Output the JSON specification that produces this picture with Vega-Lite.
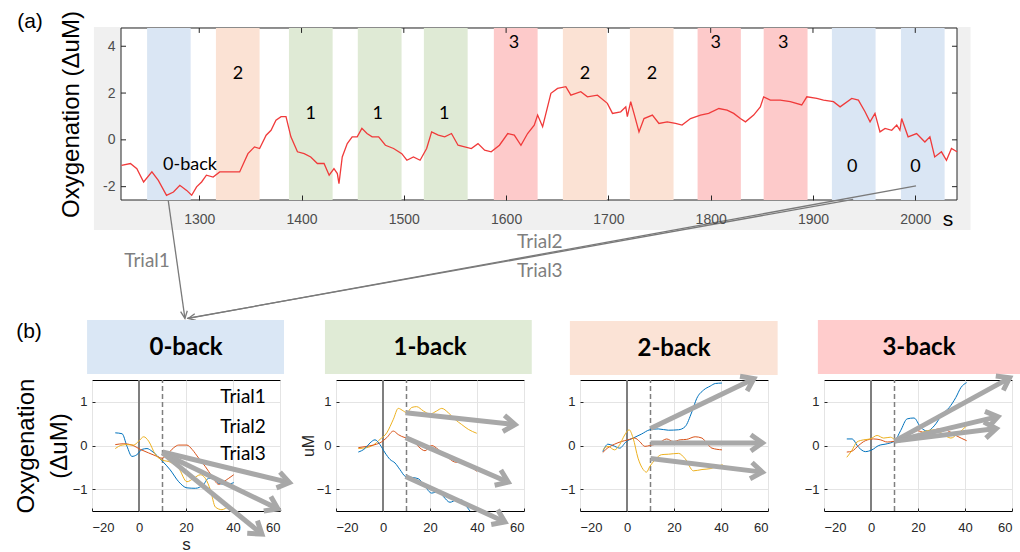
{
"$schema": "https://vega.github.io/schema/vega-lite/v6.json",
"autosize": {"type": "none"},
"padding": {"left": 92, "top": 28, "right": 928, "bottom": 524},
"background": "white",
"bounds": "flush",
"spacing": 352,
"config": {
  "view": {"stroke": null},
  "font": "Liberation Sans",
  "axis": {"labelFont": "Liberation Sans", "titleFont": "Liberation Sans", "labelColor": "#262626", "titleColor": "#000", "titleFontWeight": "normal", "domain": false, "tickColor": "#262626", "gridColor": "#e4e4e4", "labelFontSize": 13}
},
"datasets": {
  "ts": [
    {"x":1224,"y":-1.09},{"x":1232.7,"y":-1.01},{"x":1239,"y":-1.23},{"x":1245.6,"y":-1.8},{"x":1253.7,"y":-1.37},{"x":1260,"y":-1.73},{"x":1268,"y":-2.37},{"x":1274.8,"y":-2.23},{"x":1281,"y":-1.94},{"x":1287.7,"y":-2.16},{"x":1292.6,"y":-2.37},{"x":1297.4,"y":-2.01},{"x":1302.3,"y":-1.8},{"x":1307,"y":-1.51},{"x":1313.6,"y":-1.59},{"x":1320,"y":-1.37},{"x":1329.8,"y":-1.37},{"x":1339.5,"y":-1.37},{"x":1347.6,"y":-0.59},{"x":1354,"y":-0.3},{"x":1359,"y":-0.37},{"x":1365.4,"y":0.2},{"x":1370.2,"y":0.41},{"x":1375,"y":0.84},{"x":1380,"y":0.99},{"x":1384.8,"y":0.99},{"x":1389.6,"y":0.13},{"x":1396,"y":-0.51},{"x":1402.6,"y":-0.59},{"x":1409,"y":-0.73},{"x":1415.5,"y":-1.01},{"x":1422,"y":-1.01},{"x":1427,"y":-1.51},{"x":1431.7,"y":-1.23},{"x":1435,"y":-1.44},{"x":1436.6,"y":-1.87},{"x":1439.8,"y":-0.73},{"x":1444.7,"y":-0.16},{"x":1449.5,"y":0.13},{"x":1454.4,"y":0.13},{"x":1459,"y":0.49},{"x":1464,"y":0.27},{"x":1469,"y":0.13},{"x":1475.4,"y":0.13},{"x":1482,"y":-0.23},{"x":1490,"y":-0.37},{"x":1498,"y":-0.59},{"x":1503,"y":-0.87},{"x":1509.4,"y":-0.73},{"x":1515.9,"y":-0.87},{"x":1522.3,"y":-0.37},{"x":1527.2,"y":0.34},{"x":1533.7,"y":0.2},{"x":1540,"y":0.13},{"x":1546.6,"y":0.27},{"x":1553,"y":-0.23},{"x":1559.5,"y":-0.3},{"x":1566,"y":-0.37},{"x":1572.5,"y":-0.16},{"x":1579,"y":-0.44},{"x":1585.4,"y":-0.51},{"x":1593.5,"y":-0.23},{"x":1601.6,"y":0.27},{"x":1608,"y":0.2},{"x":1614.5,"y":-0.23},{"x":1621,"y":0.27},{"x":1627.5,"y":0.63},{"x":1630.8,"y":1.06},{"x":1635.7,"y":0.56},{"x":1643.8,"y":1.99},{"x":1650.3,"y":2.2},{"x":1658.4,"y":2.27},{"x":1663.3,"y":1.91},{"x":1673,"y":2.06},{"x":1679.5,"y":1.84},{"x":1689.3,"y":1.91},{"x":1699,"y":1.56},{"x":1704,"y":1.13},{"x":1712,"y":1.2},{"x":1717,"y":1.41},{"x":1718.5,"y":0.99},{"x":1721.8,"y":1.63},{"x":1725,"y":1.13},{"x":1729.9,"y":0.34},{"x":1734.8,"y":0.91},{"x":1743,"y":1.06},{"x":1749.4,"y":0.7},{"x":1757.5,"y":0.77},{"x":1765.6,"y":0.7},{"x":1772,"y":0.63},{"x":1780.3,"y":0.91},{"x":1790,"y":1.06},{"x":1798,"y":1.13},{"x":1808,"y":1.34},{"x":1816,"y":1.27},{"x":1822.5,"y":1.13},{"x":1829,"y":0.91},{"x":1834,"y":0.77},{"x":1842,"y":1.06},{"x":1848.5,"y":1.41},{"x":1851.8,"y":1.84},{"x":1858.3,"y":1.7},{"x":1868,"y":1.7},{"x":1877.8,"y":1.63},{"x":1889,"y":1.49},{"x":1894,"y":1.84},{"x":1903.8,"y":1.77},{"x":1910.3,"y":1.7},{"x":1920,"y":1.63},{"x":1926.5,"y":1.41},{"x":1937.9,"y":1.77},{"x":1944.4,"y":1.7},{"x":1950.9,"y":1.2},{"x":1955.8,"y":0.77},{"x":1960.6,"y":1.13},{"x":1965.5,"y":0.34},{"x":1970.5,"y":0.49},{"x":1977,"y":0.41},{"x":1981.9,"y":0.63},{"x":1985,"y":0.41},{"x":1986.7,"y":0.91},{"x":1993,"y":0.13},{"x":2001.3,"y":0.27},{"x":2009.4,"y":-0.09},{"x":2014.3,"y":0.13},{"x":2019,"y":-0.73},{"x":2025.6,"y":-0.51},{"x":2030.5,"y":-0.87},{"x":2035.4,"y":-0.37},{"x":2040.8,"y":-0.51}
  ],
  "bands": [
    {"x":1249,"x2":1291.6,"y":-2.57,"y2":4.78,"n":"0"},{"x":1316.3,"x2":1359,"y":-2.57,"y2":4.78,"n":"2"},{"x":1387.7,"x2":1430.4,"y":-2.57,"y2":4.78,"n":"1"},{"x":1455,"x2":1497.8,"y":-2.57,"y2":4.78,"n":"1"},{"x":1519.6,"x2":1562.4,"y":-2.57,"y2":4.78,"n":"1"},{"x":1588,"x2":1630.8,"y":-2.57,"y2":4.78,"n":"3"},{"x":1655.5,"x2":1698.5,"y":-2.57,"y2":4.78,"n":"2"},{"x":1721,"x2":1763.7,"y":-2.57,"y2":4.78,"n":"2"},{"x":1787.2,"x2":1829.5,"y":-2.57,"y2":4.78,"n":"3"},{"x":1851.8,"x2":1894.7,"y":-2.57,"y2":4.78,"n":"3"},{"x":1918.5,"x2":1961.2,"y":-2.57,"y2":4.78,"n":"0"},{"x":1986,"x2":2028.7,"y":-2.57,"y2":4.78,"n":"0"}
  ],
  "topticks": [
    {"x":1300,"y":4.78,"y2":4.57},{"x":1400,"y":4.78,"y2":4.57},{"x":1500,"y":4.78,"y2":4.57},{"x":1600,"y":4.78,"y2":4.57},{"x":1700,"y":4.78,"y2":4.57},{"x":1800,"y":4.78,"y2":4.57},{"x":1900,"y":4.78,"y2":4.57},{"x":2000,"y":4.78,"y2":4.57}
  ],
  "sideticks": [
    {"x":2040.8,"x2":2035.9,"y":-2},{"x":2040.8,"x2":2035.9,"y":0},{"x":2040.8,"x2":2035.9,"y":2},{"x":2040.8,"x2":2035.9,"y":4},
    {"x":1223.5,"x2":1228.4,"y":-2},{"x":1223.5,"x2":1228.4,"y":0},{"x":1223.5,"x2":1228.4,"y":2},{"x":1223.5,"x2":1228.4,"y":4}
  ],
  "toplabels": [
    {"x":1337.8,"y":2.82,"label":"2"},{"x":1409,"y":1.1,"label":"1"},{"x":1474.4,"y":1.1,"label":"1"},{"x":1539.5,"y":1.1,"label":"1"},{"x":1607.6,"y":4.13,"label":"3"},{"x":1677,"y":2.82,"label":"2"},{"x":1742.5,"y":2.82,"label":"2"},{"x":1805,"y":4.13,"label":"3"},{"x":1871,"y":4.13,"label":"3"},{"x":1938.4,"y":-1.15,"label":"0"},{"x":2000.3,"y":-1.15,"label":"0"},{"x":1291,"y":-1.07,"label":"0-back"}
  ],
  "links": [
    {"id":"L1","o":0,"x":1269.7,"y":-2.6},{"id":"L1","o":1,"x":1286.0,"y":-7.63},
    {"id":"L1h","o":0,"x":1281.8,"y":-7.34},{"id":"L1h","o":1,"x":1286.0,"y":-7.63},{"id":"L1h","o":2,"x":1288.3,"y":-7.30},
    {"id":"L2","o":0,"x":2000.7,"y":-1.97},{"id":"L2","o":1,"x":1289.3,"y":-7.63},
    {"id":"L3","o":0,"x":1939.3,"y":-2.54},{"id":"L3","o":1,"x":1288.0,"y":-7.63},
    {"id":"L2h","o":0,"x":1295.6,"y":-7.43},{"id":"L2h","o":1,"x":1289.3,"y":-7.63},{"id":"L2h","o":2,"x":1296.8,"y":-7.71}
  ],
  "triallabels": [
    {"x":1249,"y":-5.18,"label":"Trial1"},{"x":1633,"y":-4.37,"label":"Trial2"},{"x":1633,"y":-5.6,"label":"Trial3"}
  ],
  "trials": [
    {"p":0,"t":"1","x":-10.1,"y":0.29},{"p":0,"t":"1","x":-7.2,"y":0.27},{"p":0,"t":"1","x":-5.1,"y":-0.02},{"p":0,"t":"1","x":-3,"y":-0.25},{"p":0,"t":"1","x":-0.9,"y":-0.21},{"p":0,"t":"1","x":1.3,"y":-0.09},{"p":0,"t":"1","x":3.4,"y":-0.07},{"p":0,"t":"1","x":5.5,"y":-0.13},{"p":0,"t":"1","x":9.8,"y":-0.35},{"p":0,"t":"1","x":13.3,"y":-0.56},{"p":0,"t":"1","x":16.9,"y":-0.83},{"p":0,"t":"1","x":20.4,"y":-0.97},{"p":0,"t":"1","x":24,"y":-0.98},{"p":0,"t":"1","x":27.5,"y":-0.89},{"p":0,"t":"1","x":29.6,"y":-0.75},{"p":0,"t":"1","x":31.8,"y":-0.75},{"p":0,"t":"1","x":33.9,"y":-0.87},{"p":0,"t":"1","x":37.4,"y":-0.89},{"p":0,"t":"1","x":40.3,"y":-0.85},
    {"p":0,"t":"2","x":-10.1,"y":0.02},{"p":0,"t":"2","x":-6.5,"y":0.04},{"p":0,"t":"2","x":-3,"y":0.01},{"p":0,"t":"2","x":0.6,"y":-0.09},{"p":0,"t":"2","x":4.1,"y":-0.17},{"p":0,"t":"2","x":7.7,"y":-0.25},{"p":0,"t":"2","x":9.8,"y":-0.29},{"p":0,"t":"2","x":11.9,"y":-0.21},{"p":0,"t":"2","x":14.8,"y":-0.05},{"p":0,"t":"2","x":16.9,"y":0.01},{"p":0,"t":"2","x":20.4,"y":0.01},{"p":0,"t":"2","x":22.6,"y":-0.09},{"p":0,"t":"2","x":25.4,"y":-0.29},{"p":0,"t":"2","x":28.2,"y":-0.48},{"p":0,"t":"2","x":31.1,"y":-0.71},{"p":0,"t":"2","x":33.9,"y":-0.89},{"p":0,"t":"2","x":36,"y":-0.83},{"p":0,"t":"2","x":38.2,"y":-0.75},{"p":0,"t":"2","x":40.3,"y":-0.67},
    {"p":0,"t":"3","x":-10.1,"y":-0.07},{"p":0,"t":"3","x":-7.2,"y":0.01},{"p":0,"t":"3","x":-5.1,"y":0.02},{"p":0,"t":"3","x":-2.3,"y":0.01},{"p":0,"t":"3","x":-0.1,"y":0.1},{"p":0,"t":"3","x":2,"y":0.2},{"p":0,"t":"3","x":4.1,"y":0.1},{"p":0,"t":"3","x":7,"y":-0.21},{"p":0,"t":"3","x":9.8,"y":-0.33},{"p":0,"t":"3","x":13.3,"y":-0.38},{"p":0,"t":"3","x":16.9,"y":-0.52},{"p":0,"t":"3","x":20.4,"y":-0.83},{"p":0,"t":"3","x":23.3,"y":-0.75},{"p":0,"t":"3","x":26.1,"y":-0.67},{"p":0,"t":"3","x":28.2,"y":-0.75},{"p":0,"t":"3","x":30.4,"y":-1.02},{"p":0,"t":"3","x":32.5,"y":-1.41},{"p":0,"t":"3","x":35.3,"y":-1.47},{"p":0,"t":"3","x":38.2,"y":-1.41},{"p":0,"t":"3","x":40.3,"y":-1.45},
    {"p":1,"t":"3","x":-10.5,"y":-0.07},{"p":1,"t":"3","x":-7,"y":-0.05},{"p":1,"t":"3","x":-4.1,"y":0.01},{"p":1,"t":"3","x":-1.3,"y":0.14},{"p":1,"t":"3","x":1.6,"y":0.29},{"p":1,"t":"3","x":4.4,"y":0.6},{"p":1,"t":"3","x":6.5,"y":0.85},{"p":1,"t":"3","x":8.7,"y":0.79},{"p":1,"t":"3","x":10.1,"y":0.75},{"p":1,"t":"3","x":12.2,"y":0.87},{"p":1,"t":"3","x":14.3,"y":0.89},{"p":1,"t":"3","x":17.2,"y":0.79},{"p":1,"t":"3","x":20,"y":0.72},{"p":1,"t":"3","x":22.8,"y":0.79},{"p":1,"t":"3","x":25,"y":0.85},{"p":1,"t":"3","x":27.8,"y":0.75},{"p":1,"t":"3","x":30.6,"y":0.6},{"p":1,"t":"3","x":33.5,"y":0.48},{"p":1,"t":"3","x":36.3,"y":0.37},{"p":1,"t":"3","x":39.9,"y":0.28},
    {"p":1,"t":"2","x":-10.5,"y":-0.05},{"p":1,"t":"2","x":-7,"y":-0.02},{"p":1,"t":"2","x":-4.1,"y":0.01},{"p":1,"t":"2","x":-1.3,"y":0.06},{"p":1,"t":"2","x":1.6,"y":0.18},{"p":1,"t":"2","x":4.4,"y":0.33},{"p":1,"t":"2","x":6.5,"y":0.25},{"p":1,"t":"2","x":9.4,"y":0.18},{"p":1,"t":"2","x":12.2,"y":0.16},{"p":1,"t":"2","x":15,"y":-0.02},{"p":1,"t":"2","x":17.9,"y":-0.12},{"p":1,"t":"2","x":20.7,"y":0},{"p":1,"t":"2","x":23.5,"y":-0.09},{"p":1,"t":"2","x":27.1,"y":-0.25},{"p":1,"t":"2","x":30.6,"y":-0.38},{"p":1,"t":"2","x":34.2,"y":-0.4},{"p":1,"t":"2","x":37,"y":-0.48},{"p":1,"t":"2","x":39.9,"y":-0.59},
    {"p":1,"t":"1","x":-10.5,"y":-0.15},{"p":1,"t":"1","x":-7.7,"y":-0.07},{"p":1,"t":"1","x":-5.5,"y":0.06},{"p":1,"t":"1","x":-3.4,"y":0.13},{"p":1,"t":"1","x":-1.3,"y":0.02},{"p":1,"t":"1","x":0.9,"y":-0.17},{"p":1,"t":"1","x":3,"y":-0.32},{"p":1,"t":"1","x":5.1,"y":-0.4},{"p":1,"t":"1","x":7.2,"y":-0.55},{"p":1,"t":"1","x":9.6,"y":-0.71},{"p":1,"t":"1","x":12.2,"y":-0.73},{"p":1,"t":"1","x":15,"y":-0.76},{"p":1,"t":"1","x":17.9,"y":-0.94},{"p":1,"t":"1","x":20.7,"y":-1.09},{"p":1,"t":"1","x":23.5,"y":-1.05},{"p":1,"t":"1","x":25.7,"y":-1.17},{"p":1,"t":"1","x":28.5,"y":-1.3},{"p":1,"t":"1","x":31.3,"y":-1.25},{"p":1,"t":"1","x":33.5,"y":-1.25},{"p":1,"t":"1","x":35.6,"y":-1.4},{"p":1,"t":"1","x":37.3,"y":-1.52},
    {"p":2,"t":"1","x":-10.3,"y":-0.14},{"p":2,"t":"1","x":-8.1,"y":0.03},{"p":2,"t":"1","x":-6,"y":0},{"p":2,"t":"1","x":-3.1,"y":-0.06},{"p":2,"t":"1","x":-0.3,"y":0.09},{"p":2,"t":"1","x":2.6,"y":0.17},{"p":2,"t":"1","x":6.1,"y":0.26},{"p":2,"t":"1","x":9.7,"y":0.36},{"p":2,"t":"1","x":13.3,"y":0.38},{"p":2,"t":"1","x":17.6,"y":0.35},{"p":2,"t":"1","x":21.9,"y":0.36},{"p":2,"t":"1","x":24.7,"y":0.43},{"p":2,"t":"1","x":27.6,"y":0.77},{"p":2,"t":"1","x":29.7,"y":1.08},{"p":2,"t":"1","x":32.6,"y":1.27},{"p":2,"t":"1","x":35.4,"y":1.36},{"p":2,"t":"1","x":37.6,"y":1.42},{"p":2,"t":"1","x":40.4,"y":1.43},
    {"p":2,"t":"2","x":-10.3,"y":-0.16},{"p":2,"t":"2","x":-8.1,"y":-0.05},{"p":2,"t":"2","x":-5.3,"y":0.03},{"p":2,"t":"2","x":-2.4,"y":0.09},{"p":2,"t":"2","x":0.4,"y":0.13},{"p":2,"t":"2","x":3.3,"y":0.17},{"p":2,"t":"2","x":5.4,"y":0.09},{"p":2,"t":"2","x":7.6,"y":-0.02},{"p":2,"t":"2","x":9.7,"y":0},{"p":2,"t":"2","x":13.3,"y":0.05},{"p":2,"t":"2","x":16.9,"y":0.15},{"p":2,"t":"2","x":19.7,"y":0.09},{"p":2,"t":"2","x":22.6,"y":0.13},{"p":2,"t":"2","x":25.4,"y":0.14},{"p":2,"t":"2","x":29,"y":0.2},{"p":2,"t":"2","x":31.9,"y":0.17},{"p":2,"t":"2","x":34,"y":0.05},{"p":2,"t":"2","x":36.1,"y":-0.06},{"p":2,"t":"2","x":40.4,"y":-0.1},
    {"p":2,"t":"3","x":-10.3,"y":-0.1},{"p":2,"t":"3","x":-8.1,"y":-0.02},{"p":2,"t":"3","x":-5.3,"y":-0.1},{"p":2,"t":"3","x":-3.1,"y":0.02},{"p":2,"t":"3","x":-1,"y":0.24},{"p":2,"t":"3","x":0.9,"y":0.36},{"p":2,"t":"3","x":2.6,"y":0.17},{"p":2,"t":"3","x":4.7,"y":-0.29},{"p":2,"t":"3","x":6.9,"y":-0.55},{"p":2,"t":"3","x":8.3,"y":-0.61},{"p":2,"t":"3","x":9.7,"y":-0.48},{"p":2,"t":"3","x":11.9,"y":-0.33},{"p":2,"t":"3","x":14.7,"y":-0.21},{"p":2,"t":"3","x":17.6,"y":-0.2},{"p":2,"t":"3","x":21.9,"y":-0.18},{"p":2,"t":"3","x":24.7,"y":-0.3},{"p":2,"t":"3","x":28.3,"y":-0.58},{"p":2,"t":"3","x":31.9,"y":-0.55},{"p":2,"t":"3","x":35.4,"y":-0.53},{"p":2,"t":"3","x":38.3,"y":-0.48},{"p":2,"t":"3","x":40.7,"y":-0.44},
    {"p":3,"t":"1","x":-10.3,"y":0.15},{"p":3,"t":"1","x":-8.1,"y":0.15},{"p":3,"t":"1","x":-5.3,"y":-0.04},{"p":3,"t":"1","x":-2.4,"y":-0.14},{"p":3,"t":"1","x":0.4,"y":-0.1},{"p":3,"t":"1","x":3.3,"y":0},{"p":3,"t":"1","x":6.9,"y":0.04},{"p":3,"t":"1","x":10,"y":0.1},{"p":3,"t":"1","x":12.6,"y":0.34},{"p":3,"t":"1","x":15.4,"y":0.61},{"p":3,"t":"1","x":18.3,"y":0.63},{"p":3,"t":"1","x":21.1,"y":0.42},{"p":3,"t":"1","x":24,"y":0.33},{"p":3,"t":"1","x":26.9,"y":0.45},{"p":3,"t":"1","x":30.4,"y":0.72},{"p":3,"t":"1","x":33.3,"y":0.87},{"p":3,"t":"1","x":36.1,"y":1.1},{"p":3,"t":"1","x":38.3,"y":1.33},{"p":3,"t":"1","x":40.7,"y":1.44},
    {"p":3,"t":"2","x":-10.3,"y":-0.15},{"p":3,"t":"2","x":-8.1,"y":-0.13},{"p":3,"t":"2","x":-5.3,"y":0},{"p":3,"t":"2","x":-2.4,"y":0.11},{"p":3,"t":"2","x":1.1,"y":0.15},{"p":3,"t":"2","x":4,"y":0.13},{"p":3,"t":"2","x":6.9,"y":0.08},{"p":3,"t":"2","x":10,"y":0.1},{"p":3,"t":"2","x":13.3,"y":0.19},{"p":3,"t":"2","x":16.9,"y":0.27},{"p":3,"t":"2","x":19.7,"y":0.34},{"p":3,"t":"2","x":22.6,"y":0.3},{"p":3,"t":"2","x":25.4,"y":0.33},{"p":3,"t":"2","x":29,"y":0.38},{"p":3,"t":"2","x":32.6,"y":0.34},{"p":3,"t":"2","x":36.1,"y":0.23},{"p":3,"t":"2","x":40.7,"y":0.11},
    {"p":3,"t":"3","x":-10.3,"y":-0.27},{"p":3,"t":"3","x":-8.1,"y":-0.11},{"p":3,"t":"3","x":-6,"y":0.08},{"p":3,"t":"3","x":-3.1,"y":0.13},{"p":3,"t":"3","x":-0.3,"y":0.15},{"p":3,"t":"3","x":2.6,"y":0.23},{"p":3,"t":"3","x":5.4,"y":0.17},{"p":3,"t":"3","x":8.3,"y":0.19},{"p":3,"t":"3","x":10,"y":0.15},{"p":3,"t":"3","x":13.3,"y":0.19},{"p":3,"t":"3","x":16.9,"y":0.2},{"p":3,"t":"3","x":20.4,"y":0.27},{"p":3,"t":"3","x":24,"y":0.34},{"p":3,"t":"3","x":27.6,"y":0.36},{"p":3,"t":"3","x":30.4,"y":0.27},{"p":3,"t":"3","x":34,"y":0.17},{"p":3,"t":"3","x":36.9,"y":0.27},{"p":3,"t":"3","x":40.7,"y":0.45}
  ],
  "arrows": [
    {"p":0,"a":"A","o":0,"x":10,"y":-0.15},{"p":0,"a":"A","o":1,"x":64,"y":-0.85},
    {"p":0,"a":"Ah","o":0,"x":60.0,"y":-0.61},{"p":0,"a":"Ah","o":1,"x":64,"y":-0.85},{"p":0,"a":"Ah","o":2,"x":58.5,"y":-0.97},
    {"p":0,"a":"B","o":0,"x":10,"y":-0.17},{"p":0,"a":"B","o":1,"x":59.1,"y":-1.45},
    {"p":0,"a":"Bh","o":0,"x":56.1,"y":-1.17},{"p":0,"a":"Bh","o":1,"x":59.1,"y":-1.45},{"p":0,"a":"Bh","o":2,"x":53.1,"y":-1.50},
    {"p":0,"a":"C","o":0,"x":10,"y":-0.17},{"p":0,"a":"C","o":1,"x":52.3,"y":-2.03},
    {"p":0,"a":"Ch","o":0,"x":50.4,"y":-1.72},{"p":0,"a":"Ch","o":1,"x":52.3,"y":-2.03},{"p":0,"a":"Ch","o":2,"x":46.05,"y":-2.01},
    {"p":1,"a":"A","o":0,"x":9.6,"y":0.75},{"p":1,"a":"A","o":1,"x":56.2,"y":0.48},
    {"p":1,"a":"Ah","o":0,"x":51.7,"y":0.69},{"p":1,"a":"Ah","o":1,"x":56.2,"y":0.48},{"p":1,"a":"Ah","o":2,"x":51.0,"y":0.32},
    {"p":1,"a":"B","o":0,"x":9.6,"y":0.18},{"p":1,"a":"B","o":1,"x":53.3,"y":-0.84},
    {"p":1,"a":"Bh","o":0,"x":50.15,"y":-0.56},{"p":1,"a":"Bh","o":1,"x":53.3,"y":-0.84},{"p":1,"a":"Bh","o":2,"x":47.5,"y":-0.91},
    {"p":1,"a":"C","o":0,"x":9.6,"y":-0.71},{"p":1,"a":"C","o":1,"x":51.9,"y":-1.75},
    {"p":1,"a":"Ch","o":0,"x":48.8,"y":-1.47},{"p":1,"a":"Ch","o":1,"x":51.9,"y":-1.75},{"p":1,"a":"Ch","o":2,"x":46.05,"y":-1.81},
    {"p":2,"a":"A","o":0,"x":10,"y":0.39},{"p":2,"a":"A","o":1,"x":54,"y":1.53},
    {"p":2,"a":"Ah","o":0,"x":48.1,"y":1.585},{"p":2,"a":"Ah","o":1,"x":54,"y":1.53},{"p":2,"a":"Ah","o":2,"x":51.1,"y":1.25},
    {"p":2,"a":"B","o":0,"x":10,"y":0.06},{"p":2,"a":"B","o":1,"x":57.6,"y":0.06},
    {"p":2,"a":"Bh","o":0,"x":52.7,"y":0.246},{"p":2,"a":"Bh","o":1,"x":57.6,"y":0.06},{"p":2,"a":"Bh","o":2,"x":52.7,"y":-0.126},
    {"p":2,"a":"C","o":0,"x":10,"y":-0.30},{"p":2,"a":"C","o":1,"x":57.6,"y":-0.61},
    {"p":2,"a":"Ch","o":0,"x":53.2,"y":-0.39},{"p":2,"a":"Ch","o":1,"x":57.6,"y":-0.61},{"p":2,"a":"Ch","o":2,"x":52.35,"y":-0.76},
    {"p":3,"a":"A","o":0,"x":10,"y":0.1},{"p":3,"a":"A","o":1,"x":59,"y":1.55},
    {"p":3,"a":"Ah","o":0,"x":53.1,"y":1.59},{"p":3,"a":"Ah","o":1,"x":59,"y":1.55},{"p":3,"a":"Ah","o":2,"x":56.3,"y":1.26},
    {"p":3,"a":"B","o":0,"x":10,"y":0.1},{"p":3,"a":"B","o":1,"x":54,"y":0.66},
    {"p":3,"a":"Bh","o":0,"x":48.5,"y":0.78},{"p":3,"a":"Bh","o":1,"x":54,"y":0.66},{"p":3,"a":"Bh","o":2,"x":50.0,"y":0.42},
    {"p":3,"a":"C","o":0,"x":10,"y":0.1},{"p":3,"a":"C","o":1,"x":53.3,"y":0.39},
    {"p":3,"a":"Ch","o":0,"x":48.0,"y":0.54},{"p":3,"a":"Ch","o":1,"x":53.3,"y":0.39},{"p":3,"a":"Ch","o":2,"x":48.9,"y":0.17}
  ]
},
"vconcat": [
  {
    "hconcat": [
      {"width": 29, "height": 172, "data": {"values": [{}]}, "mark": {"type": "point", "opacity": 0}},
      {
        "width": 836, "height": 172,
        "encoding": {
          "x": {"field": "x", "type": "quantitative", "scale": {"domain": [1223.5, 2040.8], "nice": false, "zero": false},
                "axis": {"orient": "bottom", "values": [1300,1400,1500,1600,1700,1800,1900,2000], "format": "d", "tickSize": -5, "labelFontSize": 14, "labelColor": "#4d4d4d", "labelPadding": 17, "title": null, "grid": false, "zindex": 1}},
          "y": {"field": "y", "type": "quantitative", "scale": {"domain": [-2.57, 4.78], "nice": false, "zero": false},
                "axis": {"orient": "left", "values": [-2,0,2,4], "labelExpr": "replace(datum.label, '−', '-')", "ticks": false, "tickSize": 0, "labelFontSize": 14, "labelColor": "#4d4d4d", "labelPadding": 6, "title": "Oxygenation (ΔuM)", "titleFontSize": 24, "titleX": -38, "grid": false, "zindex": 1}}
        },
        "layer": [
          {"data": {"values": [{"x": 1197, "x2": 2054, "y": 4.82, "y2": -3.85}]},
           "mark": {"type": "rect", "clip": false, "fill": "#f0f0f0"},
           "encoding": {"x2": {"field": "x2"}, "y2": {"field": "y2"}}},
          {"data": {"values": [{"x": 1223.5, "x2": 2040.8, "y": 4.78, "y2": -2.57}]},
           "mark": {"type": "rect", "fill": "#ffffff", "stroke": "#262626", "strokeWidth": 1},
           "encoding": {"x2": {"field": "x2"}, "y2": {"field": "y2"}}},
          {"data": {"name": "bands"},
           "mark": {"type": "rect"},
           "encoding": {
             "x2": {"field": "x2"}, "y2": {"field": "y2"},
             "fill": {"field": "n", "type": "nominal", "scale": {"domain": ["0","1","2","3"], "range": ["#dae6f4","#dfead5","#fbe2d4","#fdcaca"]}, "legend": null}
           }},
          {"data": {"name": "topticks"},
           "mark": {"type": "rule", "color": "#262626", "strokeWidth": 1},
           "encoding": {"y2": {"field": "y2"}}},
          {"data": {"name": "sideticks"},
           "mark": {"type": "rule", "color": "#262626", "strokeWidth": 1},
           "encoding": {"x2": {"field": "x2"}}},
          {"data": {"name": "ts"},
           "mark": {"type": "line", "color": "#f03a3a", "strokeWidth": 1.3},
           "encoding": {}},
          {"data": {"name": "toplabels"},
           "mark": {"type": "text", "font": "Lato", "fontSize": 18, "color": "#000", "clip": false},
           "encoding": {"text": {"field": "label"}}},
          {"data": {"values": [{"x": 1134.5, "y": 5.04, "label": "(a)"}, {"x": 2032, "y": -3.42, "label": "s"}]},
           "mark": {"type": "text", "font": "Liberation Sans", "fontSize": 21, "color": "#000", "clip": false},
           "encoding": {"text": {"field": "label"}}},
          {"data": {"name": "links"},
           "mark": {"type": "line", "color": "#7a7a7a", "strokeWidth": 1.3, "clip": false},
           "encoding": {"detail": {"field": "id"}, "order": {"field": "o"}}},
          {"data": {"name": "triallabels"},
           "mark": {"type": "text", "font": "Lato", "fontSize": 19, "color": "#7f7f7f", "clip": false},
           "encoding": {"text": {"field": "label"}}}
        ]
      }
    ],
    "spacing": 0,
    "bounds": "flush"
  },
  {
    "hconcat": [
      {
        "width": 188, "height": 131,
        "view": {"stroke": "#000", "strokeWidth": 1},
        "encoding": {
          "x": {"field": "x", "type": "quantitative", "scale": {"domain": [-20, 60], "nice": false, "zero": false},
                "axis": {"values": [-20,0,20,40,60], "grid": true, "tickSize": -3, "labelPadding": 13, "title": "s", "titleFontSize": 17, "titleColor": "#262626", "titleBaseline": "alphabetic", "titleY": 38}},
          "y": {"field": "y", "type": "quantitative", "scale": {"domain": [-1.5, 1.5], "nice": false, "zero": false},
                "axis": {"values": [-1,0,1], "grid": true, "tickSize": -3, "labelPadding": 8, "title": ["Oxygenation", "(ΔuM)"], "titleFontSize": 24, "titleLineHeight": 33, "titleX": -54}}
        },
        "layer": [
          {"data": {"values": [{"x": -22.1, "x2": 61.7, "y": 2.874, "y2": 1.637}]}, "mark": {"type": "rect", "clip": false, "fill": "#dae7f5"}, "encoding": {"x2": {"field": "x2"}, "y2": {"field": "y2"}}},
          {"data": {"values": [{"x": 20, "y": 2.23, "label": "0-back"}]}, "mark": {"type": "text", "clip": false, "font": "Lato", "fontWeight": "bold", "fontSize": 24, "color": "#000"}, "encoding": {"text": {"field": "label"}}},
          {"data": {"values": [{"x": 0, "y": -1.5, "y2": 1.5}]}, "mark": {"type": "rule", "color": "#7f7f7f", "strokeWidth": 2}, "encoding": {"y2": {"field": "y2"}}},
          {"data": {"values": [{"x": 10, "y": -1.5, "y2": 1.5}]}, "mark": {"type": "rule", "color": "#7f7f7f", "strokeWidth": 1.5, "strokeDash": [5, 3]}, "encoding": {"y2": {"field": "y2"}}},
          {"data": {"name": "trials"}, "transform": [{"filter": "datum.p == 0"}], "mark": {"type": "line", "strokeWidth": 1, "interpolate": "monotone", "clip": true},
           "encoding": {"color": {"field": "t", "type": "nominal", "scale": {"domain": ["1","2","3"], "range": ["#0072BD","#D95319","#EDB120"]}, "legend": null}}},
          {"data": {"name": "arrows"}, "transform": [{"filter": "datum.p == 0"}], "mark": {"type": "line", "clip": false, "color": "#a8a8a8", "strokeWidth": 5},
           "encoding": {"detail": {"field": "a"}, "order": {"field": "o"}}},
          {"data": {"values": [{"x": 44.3, "y": 1.11, "label": "Trial1"}, {"x": 44.3, "y": 0.42, "label": "Trial2"}, {"x": 44.3, "y": -0.19, "label": "Trial3"}]},
           "mark": {"type": "text", "clip": false, "font": "Lato", "fontSize": 19, "color": "#000"}, "encoding": {"text": {"field": "label"}}},
          {"data": {"values": [{"x": -46.8, "y": 2.6, "label": "(b)"}]},
           "mark": {"type": "text", "clip": false, "font": "Liberation Sans", "fontSize": 21, "color": "#000"}, "encoding": {"text": {"field": "label"}}}
        ]
      },
      {
        "width": 188, "height": 131,
        "view": {"stroke": "#000", "strokeWidth": 1},
        "encoding": {
          "x": {"field": "x", "type": "quantitative", "scale": {"domain": [-20, 60], "nice": false, "zero": false},
                "axis": {"values": [-20,0,20,40,60], "grid": true, "tickSize": -3, "labelPadding": 13, "title": null}},
          "y": {"field": "y", "type": "quantitative", "scale": {"domain": [-1.5, 1.5], "nice": false, "zero": false},
                "axis": {"values": [-1,0,1], "grid": true, "tickSize": -3, "labelPadding": 8, "title": "uM", "titleFontSize": 16, "titleColor": "#262626", "titleX": -20}}
        },
        "layer": [
          {"data": {"values": [{"x": -24.7, "x2": 63.3, "y": 2.874, "y2": 1.637}]}, "mark": {"type": "rect", "clip": false, "fill": "#e0ebd6"}, "encoding": {"x2": {"field": "x2"}, "y2": {"field": "y2"}}},
          {"data": {"values": [{"x": 20, "y": 2.23, "label": "1-back"}]}, "mark": {"type": "text", "clip": false, "font": "Lato", "fontWeight": "bold", "fontSize": 24, "color": "#000"}, "encoding": {"text": {"field": "label"}}},
          {"data": {"values": [{"x": 0, "y": -1.5, "y2": 1.5}]}, "mark": {"type": "rule", "color": "#7f7f7f", "strokeWidth": 2}, "encoding": {"y2": {"field": "y2"}}},
          {"data": {"values": [{"x": 10, "y": -1.5, "y2": 1.5}]}, "mark": {"type": "rule", "color": "#7f7f7f", "strokeWidth": 1.5, "strokeDash": [5, 3]}, "encoding": {"y2": {"field": "y2"}}},
          {"data": {"name": "trials"}, "transform": [{"filter": "datum.p == 1"}], "mark": {"type": "line", "strokeWidth": 1, "interpolate": "monotone", "clip": true},
           "encoding": {"color": {"field": "t", "type": "nominal", "scale": {"domain": ["1","2","3"], "range": ["#0072BD","#D95319","#EDB120"]}, "legend": null}}},
          {"data": {"name": "arrows"}, "transform": [{"filter": "datum.p == 1"}], "mark": {"type": "line", "clip": false, "color": "#a8a8a8", "strokeWidth": 5},
           "encoding": {"detail": {"field": "a"}, "order": {"field": "o"}}}
        ]
      },
      {
        "width": 188, "height": 131,
        "view": {"stroke": "#000", "strokeWidth": 1},
        "encoding": {
          "x": {"field": "x", "type": "quantitative", "scale": {"domain": [-20, 60], "nice": false, "zero": false},
                "axis": {"values": [-20,0,20,40,60], "grid": true, "tickSize": -3, "labelPadding": 13, "title": null}},
          "y": {"field": "y", "type": "quantitative", "scale": {"domain": [-1.5, 1.5], "nice": false, "zero": false},
                "axis": {"values": [-1,0,1], "grid": true, "tickSize": -3, "labelPadding": 8, "title": null}}
        },
        "layer": [
          {"data": {"values": [{"x": -24.3, "x2": 64.1, "y": 2.851, "y2": 1.614}]}, "mark": {"type": "rect", "clip": false, "fill": "#fbe3d6"}, "encoding": {"x2": {"field": "x2"}, "y2": {"field": "y2"}}},
          {"data": {"values": [{"x": 20, "y": 2.21, "label": "2-back"}]}, "mark": {"type": "text", "clip": false, "font": "Lato", "fontWeight": "bold", "fontSize": 24, "color": "#000"}, "encoding": {"text": {"field": "label"}}},
          {"data": {"values": [{"x": 0, "y": -1.5, "y2": 1.5}]}, "mark": {"type": "rule", "color": "#7f7f7f", "strokeWidth": 2}, "encoding": {"y2": {"field": "y2"}}},
          {"data": {"values": [{"x": 10, "y": -1.5, "y2": 1.5}]}, "mark": {"type": "rule", "color": "#7f7f7f", "strokeWidth": 1.5, "strokeDash": [5, 3]}, "encoding": {"y2": {"field": "y2"}}},
          {"data": {"name": "trials"}, "transform": [{"filter": "datum.p == 2"}], "mark": {"type": "line", "strokeWidth": 1, "interpolate": "monotone", "clip": true},
           "encoding": {"color": {"field": "t", "type": "nominal", "scale": {"domain": ["1","2","3"], "range": ["#0072BD","#D95319","#EDB120"]}, "legend": null}}},
          {"data": {"name": "arrows"}, "transform": [{"filter": "datum.p == 2"}], "mark": {"type": "line", "clip": false, "color": "#a8a8a8", "strokeWidth": 5},
           "encoding": {"detail": {"field": "a"}, "order": {"field": "o"}}}
        ]
      },
      {
        "width": 188, "height": 131,
        "view": {"stroke": "#000", "strokeWidth": 1},
        "encoding": {
          "x": {"field": "x", "type": "quantitative", "scale": {"domain": [-20, 60], "nice": false, "zero": false},
                "axis": {"values": [-20,0,20,40,60], "grid": true, "tickSize": -3, "labelPadding": 13, "title": null}},
          "y": {"field": "y", "type": "quantitative", "scale": {"domain": [-1.5, 1.5], "nice": false, "zero": false},
                "axis": {"values": [-1,0,1], "grid": true, "tickSize": -3, "labelPadding": 8, "title": null}}
        },
        "layer": [
          {"data": {"values": [{"x": -22.6, "x2": 63.4, "y": 2.874, "y2": 1.637}]}, "mark": {"type": "rect", "clip": false, "fill": "#ffcccc"}, "encoding": {"x2": {"field": "x2"}, "y2": {"field": "y2"}}},
          {"data": {"values": [{"x": 20.4, "y": 2.23, "label": "3-back"}]}, "mark": {"type": "text", "clip": false, "font": "Lato", "fontWeight": "bold", "fontSize": 24, "color": "#000"}, "encoding": {"text": {"field": "label"}}},
          {"data": {"values": [{"x": 0, "y": -1.5, "y2": 1.5}]}, "mark": {"type": "rule", "color": "#7f7f7f", "strokeWidth": 2}, "encoding": {"y2": {"field": "y2"}}},
          {"data": {"values": [{"x": 10, "y": -1.5, "y2": 1.5}]}, "mark": {"type": "rule", "color": "#7f7f7f", "strokeWidth": 1.5, "strokeDash": [5, 3]}, "encoding": {"y2": {"field": "y2"}}},
          {"data": {"name": "trials"}, "transform": [{"filter": "datum.p == 3"}], "mark": {"type": "line", "strokeWidth": 1, "interpolate": "monotone", "clip": true},
           "encoding": {"color": {"field": "t", "type": "nominal", "scale": {"domain": ["1","2","3"], "range": ["#0072BD","#D95319","#EDB120"]}, "legend": null}}},
          {"data": {"name": "arrows"}, "transform": [{"filter": "datum.p == 3"}], "mark": {"type": "line", "clip": false, "color": "#a8a8a8", "strokeWidth": 5},
           "encoding": {"detail": {"field": "a"}, "order": {"field": "o"}}}
        ]
      }
    ],
    "spacing": 56,
    "bounds": "flush"
  }
]
}
